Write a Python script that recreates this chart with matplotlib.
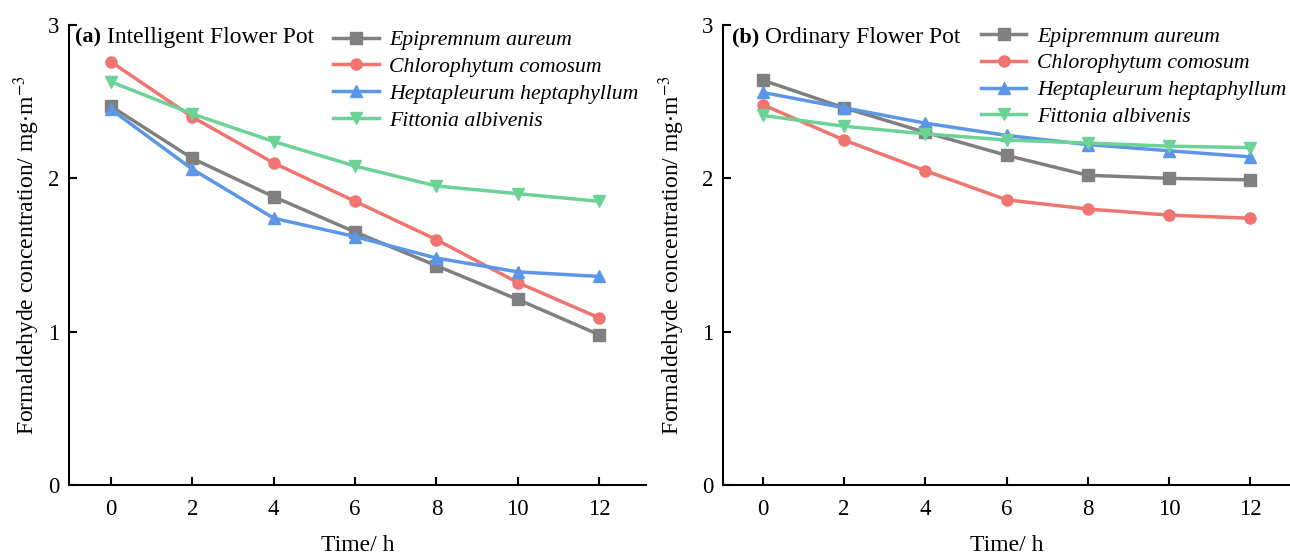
import matplotlib.pyplot as plt

plt.rcParams['font.family'] = ['Liberation Serif', 'DejaVu Serif']
plt.rcParams['mathtext.fontset'] = 'stix'

hours = [0, 2, 4, 6, 8, 10, 12]
species = ['Epipremnum aureum', 'Chlorophytum comosum',
           'Heptapleurum heptaphyllum', 'Fittonia albivenis']
colors = ['#808080', '#F07470', '#5B96E8', '#6CD296']
markers = ['s', 'o', '^', 'v']

intelligent = [
    [2.47, 2.13, 1.88, 1.65, 1.43, 1.21, 0.98],
    [2.76, 2.40, 2.10, 1.85, 1.60, 1.32, 1.09],
    [2.45, 2.06, 1.74, 1.62, 1.48, 1.39, 1.36],
    [2.63, 2.42, 2.24, 2.08, 1.95, 1.90, 1.85],
]
ordinary = [
    [2.64, 2.46, 2.30, 2.15, 2.02, 2.00, 1.99],
    [2.48, 2.25, 2.05, 1.86, 1.80, 1.76, 1.74],
    [2.56, 2.46, 2.36, 2.28, 2.22, 2.18, 2.14],
    [2.41, 2.34, 2.29, 2.25, 2.23, 2.21, 2.20],
]

fig = plt.figure(figsize=(12.9, 5.55), dpi=100)
ax1 = fig.add_axes([69 / 1290, 70 / 555, 577 / 1290, 460 / 555])
ax2 = fig.add_axes([723 / 1290, 70 / 555, 567 / 1290, 460 / 555])

# axes, data, tag, title, xlim, title x, ylabel x, legend anchor
panels = [(ax1, intelligent, '(a)', ' Intelligent Flower Pot', (-1.03, 13.15), 0.01, -0.047, (0.442, 1.008)),
          (ax2, ordinary, '(b)', ' Ordinary Flower Pot', (-0.98, 12.98), 0.015, -0.064, (0.439, 1.016))]

for ax, data, tag, name, xl, tx, ylx, anchor in panels:
    for vals, lab, c, m in zip(data, species, colors, markers):
        ax.plot(hours, vals, color=c, marker=m, markersize=8, linewidth=2.5, label=lab)
    ax.set_xlim(*xl)
    ax.set_ylim(0, 3)
    ax.set_xticks(hours)
    ax.set_yticks([0, 1, 2, 3])
    ax.spines['top'].set_visible(False)
    ax.spines['right'].set_visible(False)
    ax.spines['left'].set_linewidth(1.5)
    ax.spines['bottom'].set_linewidth(1.5)
    ax.tick_params(direction='in', length=6, width=1.5, labelsize=16.5, pad=7)
    ax.tick_params(axis='x', pad=10)
    ax.set_xlabel('Time/ h', fontsize=17)
    ax.xaxis.set_label_coords(0.5, -0.108)
    ax.set_ylabel('Formaldehyde concentration/ mg$\\cdot$m$^{-3}$', fontsize=17)
    ax.yaxis.set_label_coords(ylx, 0.5)
    t = ax.text(tx, 0.972, tag, transform=ax.transAxes, fontsize=16,
                fontweight='bold', va='center', ha='left')
    ax.annotate(name, xycoords=t, xy=(1, 0), va='bottom', ha='left', fontsize=17)
    ax.legend(loc='upper left', bbox_to_anchor=anchor, frameon=False,
              prop={'style': 'italic', 'size': 15.7}, handlelength=2.1,
              labelspacing=0.3, handletextpad=0.5, borderaxespad=0)

fig.savefig('out.png', dpi=100)
